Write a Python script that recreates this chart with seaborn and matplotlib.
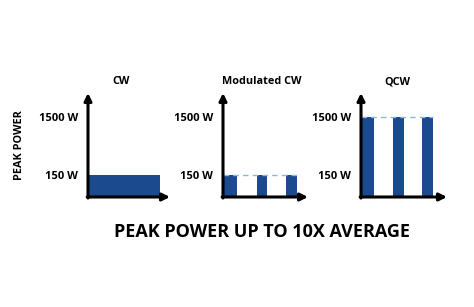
import matplotlib
matplotlib.use("Agg")
import matplotlib.pyplot as plt
import seaborn as sns
import numpy as np
import pandas as pd

# ---- data ----
titles = ["CW", "Modulated CW", "QCW"]
tick_values = [150, 1500]
tick_labels = ["150 W", "1500 W"]
# pulse start / end (fraction of time axis) and peak power per mode
cw_starts, cw_ends, cw_power = [0.0], [0.88], 150
mod_starts, mod_ends, mod_power = [0.0, 0.40, 0.74], [0.165, 0.52, 0.865], 150
qcw_starts, qcw_ends, qcw_power = [0.0, 0.37, 0.71], [0.15, 0.50, 0.84], 1500
y_label = "PEAK POWER"
caption = "PEAK POWER UP TO 10X AVERAGE"

BAR = "#1b4a8e"
DASH = "#8fb6e0"
FONT = ["Open Sans", "DejaVu Sans"]

sns.set_theme(style="white")
plt.rcParams["font.family"] = FONT
plt.rcParams["text.color"] = "black"

fig = plt.figure(figsize=(4.74, 3.07), dpi=100)
W, H = 474, 307

# axes boxes in pixels: left, right, bottom(y px), top(y px)
boxes = [(88, 170, 197, 93), (223, 308, 197, 93), (361, 447, 197, 93)]

p = 0.56
fwd = lambda v: np.sign(v) * np.abs(v) ** p
inv = lambda v: np.sign(v) * np.abs(v) ** (1 / p)

modes = [(cw_starts, cw_ends, cw_power),
         (mod_starts, mod_ends, mod_power),
         (qcw_starts, qcw_ends, qcw_power)]

for i, ((l, r, b, t), (starts, ends, power)) in enumerate(zip(boxes, modes)):
    ax = fig.add_axes([l / W, (H - b) / H, (r - l) / W, (b - t) / H])
    ax.set_yscale("function", functions=(fwd, inv))
    edges, weights = [], []
    for j, (s, e) in enumerate(zip(starts, ends)):
        if j > 0:
            weights.append(0.0)
        edges.append(s)
        edges.append(e)
        weights.append(power)
    centers = [(edges[k] + edges[k + 1]) / 2 for k in range(len(edges) - 1)]
    df = pd.DataFrame({"t": centers, "w": weights})
    sns.histplot(data=df, x="t", weights="w", bins=edges, ax=ax,
                 color=BAR, alpha=1, linewidth=0, stat="count", legend=False)
    if len(starts) > 1:
        ln = pd.DataFrame({"t": [0.0, ends[-1]], "y": [power, power]})
        sns.lineplot(data=ln, x="t", y="y", ax=ax, color=DASH, lw=1.0,
                     linestyle=(0, (4, 3)), zorder=1)
    ax.set_xlim(0, 1)
    ax.set_ylim(0, 2400)
    ax.set_yticks(tick_values)
    ax.set_yticklabels(tick_labels, fontsize=8, fontweight="bold",
                       family=FONT, color="black")
    ax.set_xticks([])
    ax.tick_params(axis="y", length=0, pad=7, colors="black")
    ax.set_xlabel("")
    ax.set_ylabel("")
    for s in ax.spines.values():
        s.set_visible(False)
    ax.patch.set_alpha(0)
    ax.annotate("", xy=(0, 1), xytext=(0, -0.01), xycoords="axes fraction",
                arrowprops=dict(arrowstyle="-|>", lw=2.2, color="black",
                                mutation_scale=11, shrinkA=0, shrinkB=0),
                annotation_clip=False)
    ax.annotate("", xy=(1, 0), xytext=(-0.01, 0), xycoords="axes fraction",
                arrowprops=dict(arrowstyle="-|>", lw=2.2, color="black",
                                mutation_scale=11, shrinkA=0, shrinkB=0),
                annotation_clip=False)
    cx = {0: 121, 1: 262, 2: 397}[i]
    fig.text(cx / W, 1 - 82 / H, titles[i], ha="center", va="center",
             fontsize=7.8, fontweight="bold", family=FONT, color="black")

fig.text(20 / W, 1 - 145 / H, y_label, rotation=90, ha="center", va="center",
         fontsize=7.8, fontweight="bold", family=FONT, color="black")
fig.text(262 / W, 1 - 232 / H, caption, ha="center", va="center",
         fontsize=13, fontweight="bold", family=FONT, color="black")

fig.savefig("out.png", dpi=100, facecolor="white")
